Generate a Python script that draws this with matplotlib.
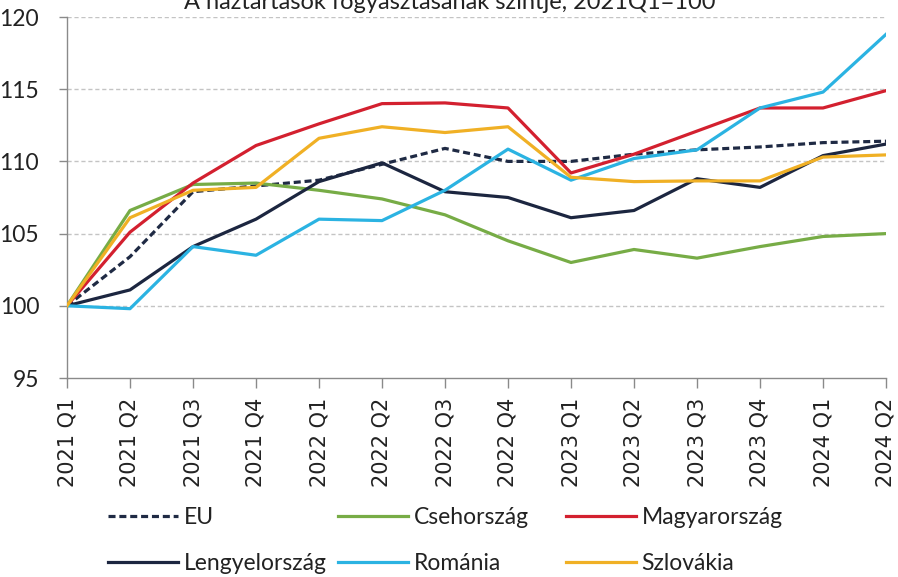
import matplotlib
matplotlib.use("Agg")
import matplotlib.pyplot as plt
from matplotlib.lines import Line2D

quarters = ["2021 Q1", "2021 Q2", "2021 Q3", "2021 Q4", "2022 Q1", "2022 Q2", "2022 Q3",
            "2022 Q4", "2023 Q1", "2023 Q2", "2023 Q3", "2023 Q4", "2024 Q1", "2024 Q2"]
eu = [100, 103.4, 107.9, 108.3, 108.7, 109.8, 110.9, 110.0, 110.0, 110.5, 110.8, 111.0, 111.3, 111.4]
cseh = [100, 106.6, 108.4, 108.5, 108.0, 107.4, 106.3, 104.5, 103.0, 103.9, 103.3, 104.1, 104.8, 105.0]
magyar = [100, 105.1, 108.5, 111.1, 112.6, 114.0, 114.05, 113.7, 109.2, 110.5, 112.1, 113.7, 113.7, 114.9]
lengyel = [100, 101.1, 104.1, 106.0, 108.6, 109.9, 107.9, 107.5, 106.1, 106.6, 108.8, 108.2, 110.4, 111.2]
romania = [100, 99.8, 104.1, 103.5, 106.0, 105.9, 108.0, 110.85, 108.7, 110.2, 110.8, 113.7, 114.8, 118.8]
szlovakia = [100, 106.1, 108.0, 108.2, 111.6, 112.4, 112.0, 112.4, 108.9, 108.6, 108.65, 108.65, 110.3, 110.45]
yticks = [95, 100, 105, 110, 115, 120]
title = "A háztartások fogyasztásának szintje, 2021Q1=100"

W, H = 898, 577
fig = plt.figure(figsize=(W / 100, H / 100), dpi=100)
ax = fig.add_axes([67 / W, 1 - 378 / H, (886 - 67) / W, (378 - 17) / H])

lab_font = "Lato"
lw = 2.3
x = list(range(len(quarters)))
series = [
    ("EU", eu, "#1F2A44", (0, (2.2, 1.2))),
    ("Csehország", cseh, "#77AC46", "-"),
    ("Magyarország", magyar, "#D3202F", "-"),
    ("Lengyelország", lengyel, "#1C2640", "-"),
    ("Románia", romania, "#2BB3E2", "-"),
    ("Szlovákia", szlovakia, "#F0B025", "-"),
]
draw_order = [1, 4, 3, 5, 2, 0]
for i in draw_order:
    name, vals, col, ls = series[i]
    ax.plot(x, vals, color=col, lw=lw, linestyle=ls, zorder=3 + i * 0.1)

ax.set_xlim(0, len(quarters) - 1)
ax.set_ylim(95, 120)
ax.set_yticks(yticks)
ax.set_yticklabels([str(v) for v in yticks], fontfamily=lab_font, fontsize=16.5, color="#222222")
ax.set_xticks(x)
ax.set_xticklabels(quarters, rotation=90, fontfamily="DejaVu Sans", fontsize=15, color="#222222")
ax.tick_params(axis="y", length=6, width=1, color="#8a8a8a", pad=14)
ax.tick_params(axis="x", length=7, width=1, color="#8a8a8a", pad=7)
for v in yticks[1:]:
    ax.axhline(v, color="#c4c4c4", lw=1, linestyle=(0, (3, 2)), zorder=1)
for s in ["top", "right"]:
    ax.spines[s].set_visible(False)
for s in ["left", "bottom"]:
    ax.spines[s].set_color("#8a8a8a")
    ax.spines[s].set_linewidth(1)

fig.text(450 / W, 1 - 9 / H, title, ha="center", va="baseline", fontfamily=lab_font,
         fontsize=17, color="#222222")

# legend: three columns, each with two entries
cols = [[0, 3], [1, 4], [2, 5]]
col_x = [108, 338, 566]
for cx, idxs in zip(col_x, cols):
    handles = []
    labels = []
    for i in idxs:
        name, vals, col, ls = series[i]
        handles.append(Line2D([], [], color=col, lw=lw, linestyle=ls))
        labels.append(name)
    leg = fig.legend(handles, labels, loc="upper left",
                     bbox_to_anchor=(cx / W, 1 - 507 / H), frameon=False,
                     prop={"family": lab_font, "size": 16.5}, handlelength=3.05,
                     handletextpad=0.25, labelspacing=1.1, borderaxespad=0, borderpad=0)
    for t in leg.get_texts():
        t.set_color("#222222")

fig.savefig("out.png", dpi=100)
